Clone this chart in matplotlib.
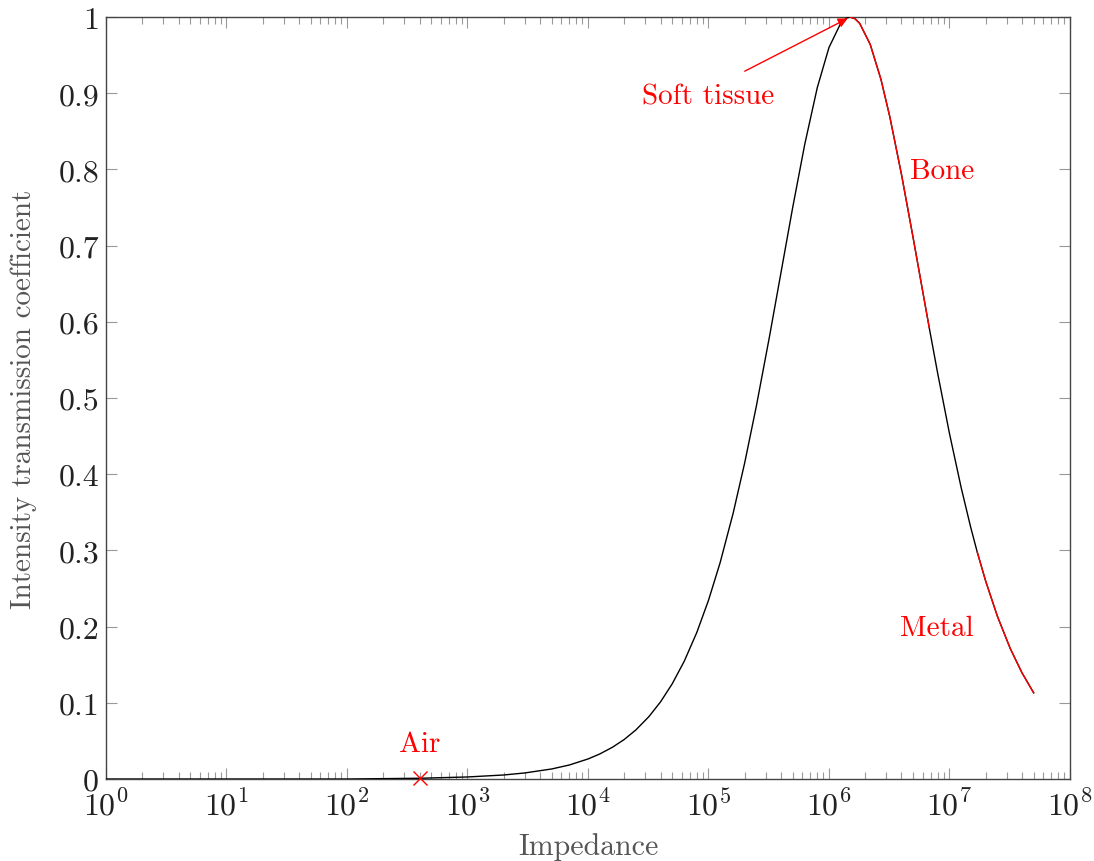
import numpy as np
import matplotlib
matplotlib.use("Agg")
import matplotlib.pyplot as plt
from matplotlib.ticker import FuncFormatter, LogLocator, FixedLocator

plt.rcParams['font.family'] = 'serif'
plt.rcParams['font.serif'] = ['cmr10', 'DejaVu Serif']
plt.rcParams['mathtext.fontset'] = 'cm'
plt.rcParams['axes.unicode_minus'] = False

impedance = [1, 10, 100, 400, 1e3, 2e3, 3e3, 5e3, 7e3,
             1e4, 1.25e4, 1.6e4, 2e4, 2.5e4, 3.2e4, 4e4, 5e4, 6.3e4, 8e4,
             1e5, 1.25e5, 1.6e5, 2e5, 2.5e5, 3.2e5, 4e5, 5e5, 6.3e5, 8e5,
             1e6, 1.25e6, 1.4e6, 1.5e6, 1.65e6, 1.8e6, 2.2e6, 2.7e6, 3.2e6,
             4e6, 5e6, 6e6, 6.8e6, 8e6, 1e7, 1.25e7, 1.5e7, 1.7e7, 2e7,
             2.5e7, 3.2e7, 4e7, 5e7]
transmission = [0.0, 0.0, 0.0, 0.001, 0.0027, 0.0053, 0.008, 0.0132, 0.0184,
                0.0263, 0.0328, 0.0418, 0.0519, 0.0645, 0.0818, 0.1012, 0.1249, 0.1547, 0.1923,
                0.2344, 0.2840, 0.3484, 0.4152, 0.4898, 0.5796, 0.6648, 0.7500, 0.8332, 0.9074,
                0.9600, 0.9917, 0.9988, 1.0, 0.9977, 0.9917, 0.9642, 0.9184, 0.8692,
                0.7934, 0.7101, 0.6400, 0.5922, 0.5319, 0.4537, 0.3827, 0.3306, 0.2980, 0.2596,
                0.2136, 0.1711, 0.1394, 0.1131]

# highlighted ranges (red)
bone_range = (1.5e6, 6.8e6)
metal_range = (1.7e7, 5e7)

air_point = (400, 0.001)
soft_tissue_point = (1.5e6, 1.0)

labels = ["Air", "Soft tissue", "Bone", "Metal"]
label_x = [400, 1.0e5, 8.7e6, 7.9e6]
label_y = [0.046, 0.896, 0.798, 0.198]

z = np.array(impedance)
t = np.array(transmission)

fig = plt.figure(figsize=(10.94, 8.62), dpi=100)
ax = fig.add_axes([0.0969, 0.0951, 0.978 - 0.0969, 0.979 - 0.0951])

ax.plot(z, t, color='black', lw=1.0, zorder=3)
for lo, hi in (bone_range, metal_range):
    m = (z >= lo) & (z <= hi)
    ax.plot(z[m], t[m], color='red', lw=1.0, zorder=4)

ax.plot(*air_point, marker='x', color='red', ms=10, mew=1.0, ls='none',
        zorder=5, clip_on=False)

for lab, lx, ly in zip(labels, label_x, label_y):
    ax.text(lx, ly, lab, color='red', fontsize=21, ha='center', va='center')

ax.annotate("", xy=soft_tissue_point, xytext=(2.0e5, 0.929),
            arrowprops=dict(arrowstyle='-|>', color='red', lw=1.0,
                            mutation_scale=14, shrinkA=0, shrinkB=2))

ax.set_xscale('log')
ax.set_xlim(1, 1e8)
ax.set_ylim(0, 1)

ax.xaxis.set_major_locator(LogLocator(base=10, numticks=20))
ax.xaxis.set_minor_locator(LogLocator(base=10, subs=np.arange(2, 10), numticks=20))
ax.xaxis.set_major_formatter(FuncFormatter(lambda v, p: r'$10^{%d}$' % round(np.log10(v))))
ax.yaxis.set_major_locator(FixedLocator(np.arange(0, 1.01, 0.1)))
ax.yaxis.set_major_formatter(FuncFormatter(lambda v, p: '%g' % round(v, 1)))

ax.tick_params(which='both', direction='in', top=True, right=True, color='#999999')
ax.tick_params(which='major', length=8, width=0.8, labelsize=23, labelcolor='#222222')
ax.tick_params(axis='x', which='major', pad=7)
ax.tick_params(axis='y', which='major', pad=5)
ax.tick_params(which='minor', length=5, width=0.8)
for s in ax.spines.values():
    s.set_color('#444444')
    s.set_linewidth(1.0)

ax.set_xlabel("Impedance", fontsize=21.5, color='#555555', labelpad=8)
ax.set_ylabel("Intensity transmission coefficient", fontsize=21, color='#555555', labelpad=15)

fig.savefig("out.png", dpi=100)
